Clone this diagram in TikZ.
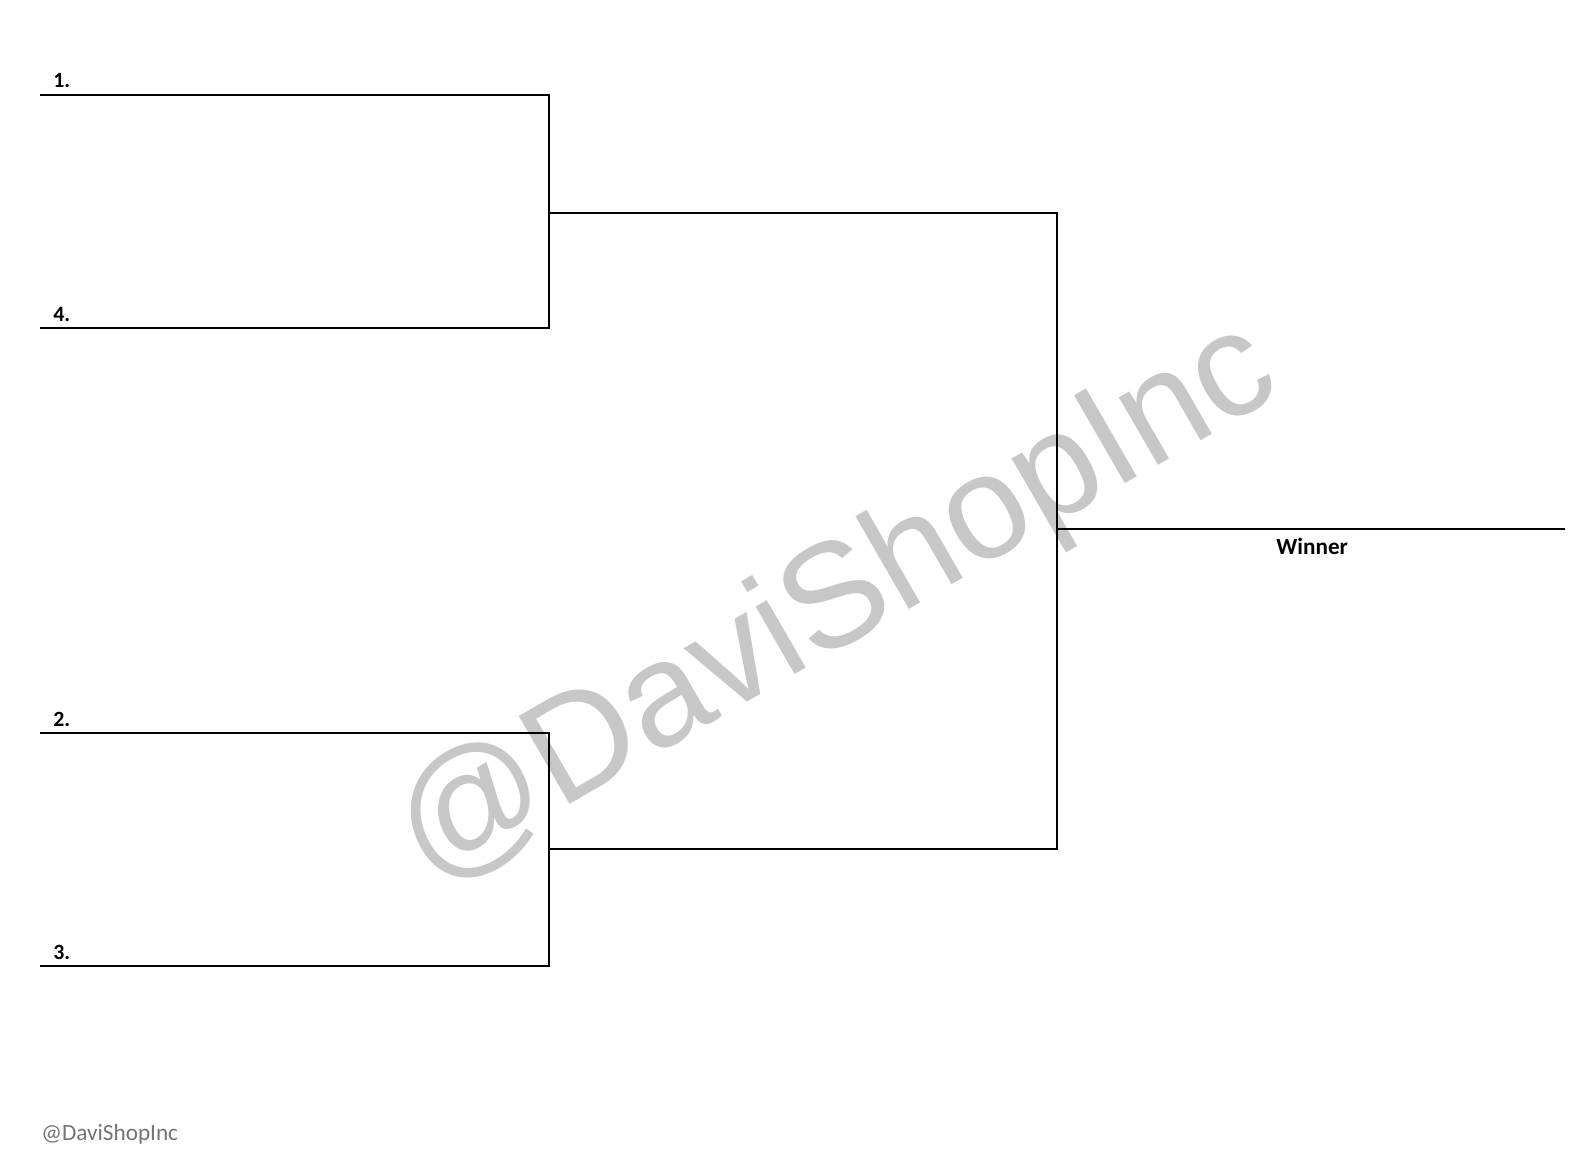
\documentclass[tikz,border=0pt]{standalone}
\usepackage{fontspec}
\setmainfont{Carlito}
\newfontfamily\markfont{Liberation Sans}
\usepackage{tikz}

\tikzset{
    seed/.style={anchor=base west, inner sep=0pt, font=\bfseries\fontsize{15.5}{15.5}\selectfont},
}

\begin{document}
\begin{tikzpicture}[x=0.025cm, y=-0.025cm, line width=2pt]
    \useasboundingbox (0,0) rectangle (1588,1161);

    % watermark behind the bracket
    \node[text=black!22, inner sep=0pt, rotate=30,
          font=\markfont\fontsize{105}{105}\selectfont] (mark) at (838,606) {@DaviShopInc};

    \coordinate (a1) at (40,95);
    \coordinate (a4) at (40,328);
    \coordinate (a2) at (40,733);
    \coordinate (a3) at (40,966);
    \coordinate (j1) at (549,213);
    \coordinate (j2) at (549,849);
    \coordinate (f) at (1057,529);
    \coordinate (w) at (1565,529);

    \draw (a1) -| (j1) |- (a4);
    \draw (a2) -| (j2) |- (a3);
    \draw (j1) -| (f) |- (j2);
    \draw (f) -- (w);

    \node[seed] (l1) at (52,88) {1.};
    \node[seed] (l4) at (52,321) {4.};
    \node[seed] (l2) at (52,726) {2.};
    \node[seed] (l3) at (52,959) {3.};
    \node[seed, font=\bfseries\fontsize{16.5}{16.5}\selectfont] (win) at (1275,554) {Winner};

    \node[anchor=base west, inner sep=0pt, text=black!55,
          font=\fontsize{16.5}{16.5}\selectfont] (foot) at (40,1140) {@DaviShopInc};
\end{tikzpicture}
\end{document}
